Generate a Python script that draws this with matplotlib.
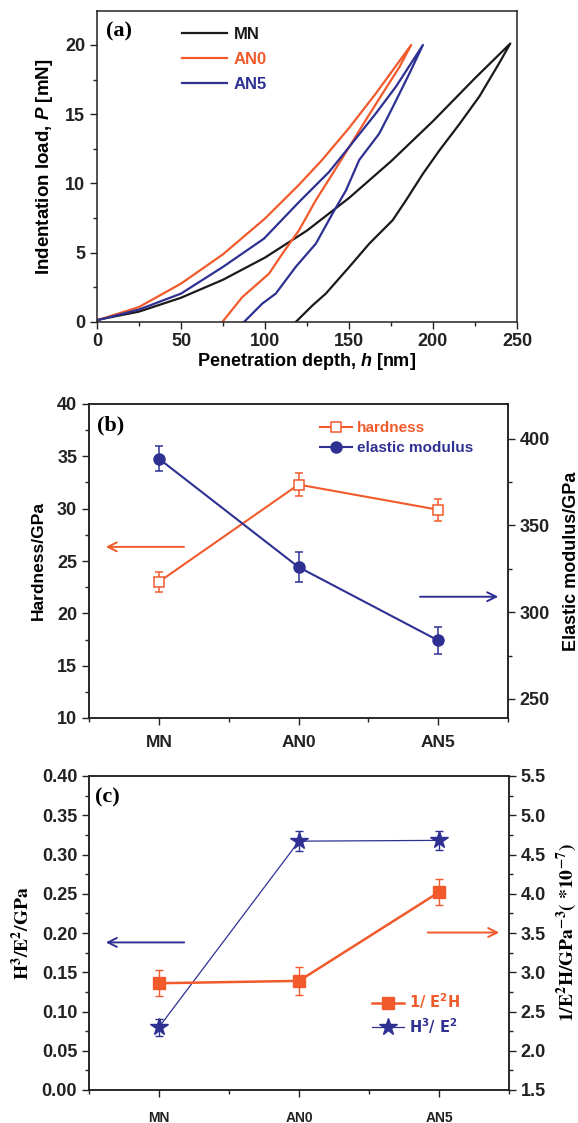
import numpy as np
import matplotlib
matplotlib.use("Agg")
import matplotlib.pyplot as plt
from matplotlib.ticker import MultipleLocator, FormatStrFormatter

plt.rcParams['font.family'] = ['Liberation Sans', 'DejaVu Sans']
plt.rcParams['font.weight'] = 'bold'
plt.rcParams['mathtext.fontset'] = 'custom'
plt.rcParams['mathtext.rm'] = 'Liberation Sans:bold'
plt.rcParams['mathtext.it'] = 'Liberation Sans:bold:italic'
plt.rcParams['mathtext.bf'] = 'Liberation Sans:bold'

ORANGE = '#f15a2b'
BLUE = '#2e3192'
BLACK = '#1a1a1a'

# (a) load-displacement curves: loading branch, then unloading branch
mn_load_h = [0, 25, 50, 75, 100, 125, 150, 175, 200, 225, 246]
mn_load_p = [0.15, 0.75, 1.75, 3.05, 4.65, 6.6, 8.95, 11.6, 14.5, 17.6, 20.1]
mn_unload_h = [118.3, 128.3, 136.2, 150.2, 162.1, 176, 184, 194, 203.9, 215.8, 227.7, 239.7, 246]
mn_unload_p = [0.0, 1.2, 2.05, 3.98, 5.66, 7.35, 8.8, 10.7, 12.4, 14.3, 16.3, 18.75, 20.1]

an0_load_h = [0, 25, 50, 75, 100, 120, 134, 150, 166, 187]
an0_load_p = [0.12, 1.08, 2.77, 4.89, 7.47, 9.88, 11.7, 14.0, 16.5, 20.0]
an0_unload_h = [74.6, 86.5, 102.4, 110.4, 120.3, 130.3, 140.2, 150.2, 160.1, 170, 180, 187]
an0_unload_p = [0.0, 1.8, 3.49, 4.94, 6.63, 8.8, 10.7, 12.65, 14.6, 16.5, 18.4, 20.0]

an5_load_h = [0, 25, 50, 75, 99.4, 120.3, 138.2, 150.2, 166, 178, 194]
an5_load_p = [0.12, 0.9, 2.05, 3.98, 6.02, 8.67, 10.84, 12.65, 15.06, 17.0, 20.0]
an5_unload_h = [87.5, 98.4, 106.4, 118.3, 130.3, 140.2, 148.2, 156.1, 168, 176, 186, 194]
an5_unload_p = [0.0, 1.33, 2.05, 3.98, 5.66, 7.83, 9.5, 11.7, 13.6, 15.5, 17.95, 20.0]

# (b) hardness and elastic modulus
samples = ['MN', 'AN0', 'AN5']
hardness = [23.0, 32.3, 29.9]
hardness_err = [0.95, 1.1, 1.05]
modulus = [388.5, 326.0, 283.7]
modulus_err = [7.2, 8.5, 7.7]

# (c) H^3/E^2 and 1/(E^2 H)
h3e2 = [0.080, 0.317, 0.318]
h3e2_err = [0.011, 0.013, 0.0125]
inv_e2h = [2.86, 2.89, 4.02]
inv_e2h_err = [0.165, 0.175, 0.165]

fig = plt.figure(figsize=(5.78, 11.23), dpi=100)


def style_axis(ax, size=13):
    for sp in ax.spines.values():
        sp.set_linewidth(1.1)
        sp.set_color('#222222')
    ax.tick_params(which='both', direction='out', width=1.0, colors='#222222',
                   labelsize=size, top=False, right=False)
    ax.tick_params(which='major', length=5)
    ax.tick_params(which='minor', length=3)


# ---------------- (a) ----------------
ax1 = fig.add_axes([97/578, 1-322/1123, 420/578, 311/1123])
curves = [
    ('MN', BLACK, mn_load_h, mn_load_p, mn_unload_h, mn_unload_p),
    ('AN0', ORANGE, an0_load_h, an0_load_p, an0_unload_h, an0_unload_p),
    ('AN5', BLUE, an5_load_h, an5_load_p, an5_unload_h, an5_unload_p),
]
for name, col, lh, lp, uh, up in curves:
    h = list(lh) + list(uh[::-1])
    p = list(lp) + list(up[::-1])
    ax1.plot(h, p, color=col, lw=1.6, label=name, solid_joinstyle='round')
ax1.set_xlim(0, 250)
ax1.set_ylim(0, 22.45)
ax1.xaxis.set_major_locator(MultipleLocator(50))
ax1.xaxis.set_minor_locator(MultipleLocator(25))
ax1.yaxis.set_major_locator(MultipleLocator(5))
ax1.yaxis.set_minor_locator(MultipleLocator(2.5))
style_axis(ax1)
ax1.tick_params(axis='x', pad=3)
ax1.set_xlabel(r'Penetration depth, $h$ [nm]', fontsize=13, fontweight='bold', labelpad=1)
ax1.set_ylabel(r'Indentation load, $P$ [mN]', fontsize=13.5, fontweight='bold', labelpad=7)
leg = ax1.legend(loc='upper left', bbox_to_anchor=(0.202, 0.95), frameon=False,
                 fontsize=12, handlelength=2.7, labelspacing=0.62, handletextpad=0.4,
                 borderpad=0, borderaxespad=0)
for txt, (name, col, *_) in zip(leg.get_texts(), curves):
    txt.set_color(col)
ax1.text(0.022, 0.965, '(a)', transform=ax1.transAxes, ha='left', va='top',
         fontsize=16, fontweight='bold', family='Liberation Serif')

# ---------------- (b) ----------------
pos = np.arange(1, 4)
ax2 = fig.add_axes([89/578, 1-718/1123, 419/578, 314/1123])
ax2r = ax2.twinx()
lh2 = ax2.errorbar(pos, hardness, yerr=hardness_err, color=ORANGE, lw=1.5,
                   marker='s', ms=7, mfc='white', mec=ORANGE, mew=1.1,
                   capsize=3, elinewidth=1.1, capthick=1.1)
lm2 = ax2r.errorbar(pos, modulus, yerr=modulus_err, color=BLUE, lw=1.5,
                    marker='o', ms=8, mfc=BLUE, mec=BLUE,
                    capsize=3, elinewidth=1.1, capthick=1.1)
ax2.set_xlim(0.5, 3.5)
ax2.set_ylim(10, 40)
ax2r.set_ylim(239, 420)
ax2.set_xticks(pos)
ax2.set_xticklabels(samples)
ax2.xaxis.set_minor_locator(MultipleLocator(0.5))
ax2.yaxis.set_major_locator(MultipleLocator(5))
ax2.yaxis.set_minor_locator(MultipleLocator(2.5))
ax2r.yaxis.set_major_locator(MultipleLocator(50))
ax2r.yaxis.set_minor_locator(MultipleLocator(25))
style_axis(ax2)
style_axis(ax2r)
ax2r.tick_params(which='both', right=True, left=False)
ax2.tick_params(axis='x', pad=7, labelsize=12.5)
ax2.set_ylabel('Hardness/GPa', fontsize=12.5, fontweight='bold', labelpad=8)
ax2r.set_ylabel('Elastic modulus/GPa', fontsize=13, fontweight='bold', labelpad=9)
leg2 = ax2.legend([lh2.lines[0], lm2.lines[0]], ['hardness', 'elastic modulus'],
                  loc='upper left', bbox_to_anchor=(0.551, 0.945),
                  frameon=False, fontsize=11, handlelength=2.1, labelspacing=0.4,
                  handletextpad=0.33, borderpad=0, borderaxespad=0)
for txt, col in zip(leg2.get_texts(), [ORANGE, BLUE]):
    txt.set_color(col)
ax2.annotate('', xy=(0.6, 26.35), xytext=(1.2, 26.35),
             arrowprops=dict(arrowstyle='->', color=ORANGE, lw=1.4, mutation_scale=16))
ax2r.annotate('', xy=(3.45, 308.9), xytext=(2.85, 308.9),
              arrowprops=dict(arrowstyle='->', color=BLUE, lw=1.4, mutation_scale=16))
ax2.text(0.02, 0.965, '(b)', transform=ax2.transAxes, ha='left', va='top',
         fontsize=16, fontweight='bold', family='Liberation Serif')

# ---------------- (c) ----------------
ax3 = fig.add_axes([89/578, 1-1090/1123, 420/578, 314/1123])
ax3r = ax3.twinx()
lh3 = ax3.errorbar(pos, h3e2, yerr=h3e2_err, color=BLUE, lw=0.9,
                   marker='*', ms=13, mfc=BLUE, mec=BLUE,
                   capsize=3, elinewidth=1.0, capthick=1.0)
li3 = ax3r.errorbar(pos, inv_e2h, yerr=inv_e2h_err, color=ORANGE, lw=1.8,
                    marker='s', ms=9, mfc=ORANGE, mec=ORANGE,
                    capsize=3, elinewidth=1.0, capthick=1.0)
ax3.set_xlim(0.5, 3.5)
ax3.set_ylim(0, 0.40)
ax3r.set_ylim(1.5, 5.5)
ax3.set_xticks(pos)
ax3.set_xticklabels(samples)
ax3.xaxis.set_minor_locator(MultipleLocator(0.5))
ax3.yaxis.set_major_locator(MultipleLocator(0.05))
ax3.yaxis.set_minor_locator(MultipleLocator(0.025))
ax3.yaxis.set_major_formatter(FormatStrFormatter('%.2f'))
ax3r.yaxis.set_major_locator(MultipleLocator(0.5))
ax3r.yaxis.set_minor_locator(MultipleLocator(0.25))
ax3r.yaxis.set_major_formatter(FormatStrFormatter('%.1f'))
style_axis(ax3)
style_axis(ax3r)
ax3r.tick_params(which='both', right=True, left=False)
ax3.tick_params(axis='x', pad=10, labelsize=10)
ax3.set_ylabel(r'$\mathbf{H^{3}/E^{2}/GPa}$', fontsize=14, math_fontfamily='stix',
               labelpad=6)
ax3r.set_ylabel(r'$\mathbf{1/E^{2}H/GPa^{-3}(\ {*}10^{-7})}$', fontsize=14,
                math_fontfamily='stix', labelpad=6)
leg3 = ax3r.legend([li3.lines[0], lh3.lines[0]],
                   [r'$\mathbf{1/\ E^{2}H}$', r'$\mathbf{H^{3}/\ E^{2}}$'],
                   loc='upper left', bbox_to_anchor=(0.674, 0.315),
                   frameon=False, handlelength=2.2, labelspacing=0.35,
                   handletextpad=0.3, borderpad=0, borderaxespad=0, fontsize=10.5)
for txt, col in zip(leg3.get_texts(), [ORANGE, BLUE]):
    txt.set_color(col)
    txt.set_math_fontfamily('dejavusans')
ax3.annotate('', xy=(0.6, 0.188), xytext=(1.2, 0.188),
             arrowprops=dict(arrowstyle='->', color=BLUE, lw=1.4, mutation_scale=16))
ax3r.annotate('', xy=(3.45, 3.506), xytext=(2.9, 3.506),
              arrowprops=dict(arrowstyle='->', color=ORANGE, lw=1.4, mutation_scale=16))
ax3.text(0.015, 0.965, '(c)', transform=ax3.transAxes, ha='left', va='top',
         fontsize=16, fontweight='bold', family='Liberation Serif')

fig.savefig('out.png', dpi=100)
